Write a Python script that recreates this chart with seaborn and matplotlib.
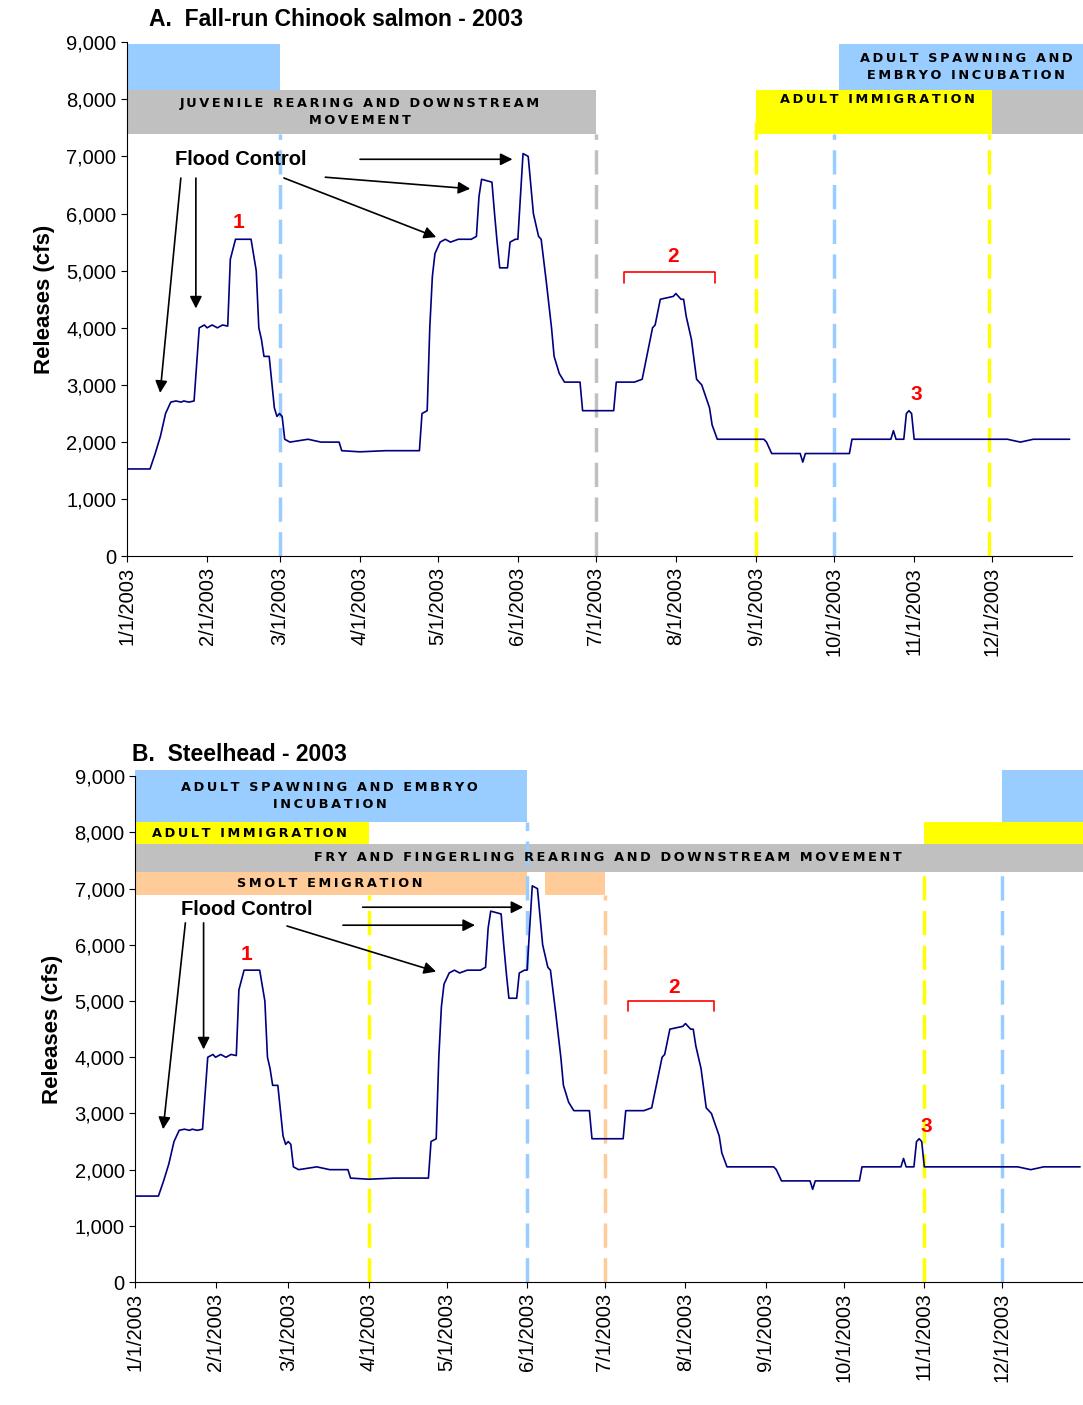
import pandas as pd
import numpy as np
import matplotlib
matplotlib.use("Agg")
import matplotlib.pyplot as plt
import seaborn as sns

sns.set_style("white")
plt.rcParams["font.family"] = ["Liberation Sans", "DejaVu Sans"]
plt.rcParams["text.color"] = "black"
plt.rcParams["axes.labelcolor"] = "black"
plt.rcParams["xtick.color"] = "black"
plt.rcParams["ytick.color"] = "black"

START = pd.Timestamp("2003-01-01")

# release series, breakpoints as day-of-year offset and cfs
days = [0, 9, 11, 13, 15, 17, 19, 21, 22, 24, 26, 28, 30, 31, 33, 35, 37, 39, 40, 42, 48, 50,
        51, 52, 53, 55, 57, 58, 59, 60, 61, 63, 70, 75, 82, 83, 90, 100, 113, 114, 116, 117, 118,
        119, 121, 123, 125, 128, 133, 135, 136, 137, 141, 142, 143, 144, 147, 148, 150, 151, 153,
        155, 157, 159, 160, 162, 164, 165, 167, 169, 171, 175, 176, 188, 189, 196, 199, 201, 203,
        204, 206, 211, 212, 214, 215, 216, 218, 220, 222, 225, 226, 228, 246, 247, 249, 260, 261,
        262, 268, 279, 280, 295, 296, 297, 300, 301, 302, 303, 304, 340, 345, 350, 364]
vals = [1530, 1530, 1800, 2100, 2500, 2700, 2720, 2700, 2720, 2700, 2720, 4000, 4050, 4000, 4050, 4000, 4050, 4030, 5200, 5550, 5550, 5000,
        4000, 3800, 3500, 3500, 2600, 2450, 2500, 2450, 2050, 2000, 2050, 2000, 2000, 1850, 1830, 1850, 1850, 2500, 2550, 4000, 4900,
        5300, 5500, 5550, 5500, 5550, 5550, 5600, 6300, 6600, 6550, 6000, 5500, 5050, 5050, 5500, 5550, 5550, 7050,
        7000, 6000, 5600, 5550, 4800, 4000, 3500, 3200, 3050, 3050, 3050, 2550, 2550, 3050, 3050, 3100, 3550, 4000,
        4050, 4500, 4550, 4600, 4500, 4500, 4200, 3800, 3100, 3000, 2600, 2300, 2050, 2050, 2000, 1800, 1800, 1650,
        1800, 1800, 1800, 2050, 2050, 2200, 2050, 2050, 2500, 2550, 2500, 2050, 2050, 2000, 2050, 2050]

month_ticks = [0, 31, 59, 90, 120, 151, 181, 212, 243, 273, 304, 334]
month_labels = [f"{m}/1/2003" for m in range(1, 13)]

BLUE = "#99CCFF"
GRAY = "#C0C0C0"
YELLOW = "#FFFF00"
ORANGE = "#FFCC99"
NAVY = "#000080"


def d(n):
    return START + pd.Timedelta(days=n)


def band(ax, x0, x1, y0, y1, color):
    ax.fill_between([d(x0), d(x1)], y0, y1, color=color, lw=0, clip_on=False, zorder=1)


def spaced(s):
    # the original bands use letter-spaced captions
    return "\n".join("\u2009".join(line) for line in s.split("\n"))


def btext(ax, x, y, s):
    ax.text(d(x), y, spaced(s), ha="center", va="center", fontsize=9.3, fontweight="bold",
            linespacing=1.4, zorder=3, clip_on=False, family=["DejaVu Sans"])


def vdash(ax, x, top, color):
    ax.vlines(d(x), 0, top, colors=color, linestyles=(0, (7, 3)), lw=2.5, zorder=1)


def arrow(ax, x0, y0, x1, y1):
    ax.annotate("", xy=(d(x1), y1), xytext=(d(x0), y0),
                arrowprops=dict(arrowstyle="-|>", color="black", lw=1.2, mutation_scale=18))


def red(ax, x, y, s):
    ax.text(d(x), y, s, color="red", fontsize=15, fontweight="bold", ha="center", va="center")


def bracket(ax, x0, x1, y):
    ax.plot([d(x0), d(x0), d(x1), d(x1)], [y - 180, y, y, y - 180], color="red", lw=1.2)


def base(ax):
    df = pd.DataFrame({"date": [d(n) for n in days], "cfs": vals})
    sns.lineplot(data=df, x="date", y="cfs", ax=ax, color=NAVY, lw=1.2, estimator=None, zorder=2)
    ax.set_xlim(d(0), d(365))
    ax.set_ylim(0, 9000)
    ax.set_yticks(range(0, 9001, 1000))
    ax.set_yticklabels([f"{v:,}" for v in range(0, 9001, 1000)], fontsize=14.5)
    ax.set_xticks([d(n) for n in month_ticks])
    ax.set_xticklabels(month_labels, rotation=90, fontsize=14.5)
    ax.set_xlabel("")
    ax.set_ylabel("Releases (cfs)", fontsize=16, fontweight="bold", labelpad=8)
    for s in ["top", "right"]:
        ax.spines[s].set_visible(False)
    for s in ["left", "bottom"]:
        ax.spines[s].set_color("black")
    ax.tick_params(axis="both", which="major", length=4, color="black", direction="out", left=True, bottom=True)


fig = plt.figure(figsize=(10.83, 14.05), dpi=100)
axA = fig.add_axes([0.117, 0.604, 0.873, 0.366])
axB = fig.add_axes([0.1247, 0.0875, 0.875, 0.360])

# ---- Panel A
base(axA)
band(axA, 0, 59, 8160, 8965, BLUE)
band(axA, 0, 181, 7390, 8160, GRAY)
band(axA, 243, 334, 7390, 8160, YELLOW)
band(axA, 334, 369, 7390, 8160, GRAY)
band(axA, 275, 369, 8160, 8965, BLUE)
btext(axA, 90, 7780, "JUVENILE REARING AND DOWNSTREAM\nMOVEMENT")
btext(axA, 290, 7990, "ADULT IMMIGRATION")
btext(axA, 324, 8560, "ADULT SPAWNING AND\nEMBRYO INCUBATION")
vdash(axA, 59, 7390, BLUE)
vdash(axA, 181, 7390, GRAY)
vdash(axA, 243, 7600, YELLOW)
vdash(axA, 273, 7390, BLUE)
vdash(axA, 333, 7390, YELLOW)
axA.text(d(18.6), 6950, "Flood Control", fontsize=14.5, fontweight="bold", va="center")
arrow(axA, 21, 6670, 12.8, 2813)
arrow(axA, 26.7, 6670, 26.7, 4290)
arrow(axA, 89, 6950, 150, 6950)
arrow(axA, 75.6, 6640, 133.7, 6430)
arrow(axA, 59.7, 6640, 120.5, 5570)
red(axA, 43, 5850, "1")
red(axA, 211, 5250, "2")
bracket(axA, 192, 227, 4970)
red(axA, 305, 2840, "3")
fig.text(0.138, 0.986, "A.  Fall-run Chinook salmon - 2003", fontsize=16.5, fontweight="bold", va="center")

# ---- Panel B
base(axB)
band(axB, 0, 151, 8180, 9110, BLUE)
band(axB, 0, 90, 7800, 8180, YELLOW)
band(axB, 0, 369, 7290, 7800, GRAY)
band(axB, 0, 151, 6880, 7290, ORANGE)
band(axB, 158, 181, 6880, 7290, ORANGE)
band(axB, 334, 369, 8180, 9110, BLUE)
band(axB, 304, 369, 7800, 8180, YELLOW)
btext(axB, 75, 8650, "ADULT SPAWNING AND EMBRYO\nINCUBATION")
btext(axB, 44, 7990, "ADULT IMMIGRATION")
btext(axB, 182, 7560, "FRY AND FINGERLING REARING AND DOWNSTREAM MOVEMENT")
btext(axB, 75, 7090, "SMOLT EMIGRATION")
vdash(axB, 90, 6880, YELLOW)
vdash(axB, 151, 8180, BLUE)
vdash(axB, 181, 6880, ORANGE)
vdash(axB, 304, 7290, YELLOW)
vdash(axB, 334, 7290, BLUE)
axB.text(d(17.6), 6630, "Flood Control", fontsize=14.5, fontweight="bold", va="center")
arrow(axB, 19.5, 6440, 10.7, 2670)
arrow(axB, 26.4, 6440, 26.4, 4090)
arrow(axB, 86.6, 6670, 150.6, 6670)
arrow(axB, 79, 6350, 132, 6350)
arrow(axB, 57.5, 6350, 117, 5510)
red(axB, 43, 5820, "1")
red(axB, 207.7, 5250, "2")
bracket(axB, 190, 223, 5000)
red(axB, 304.6, 2760, "3")
fig.text(0.122, 0.463, "B.  Steelhead - 2003", fontsize=16.5, fontweight="bold", va="center")

fig.savefig("out.png", dpi=100)
